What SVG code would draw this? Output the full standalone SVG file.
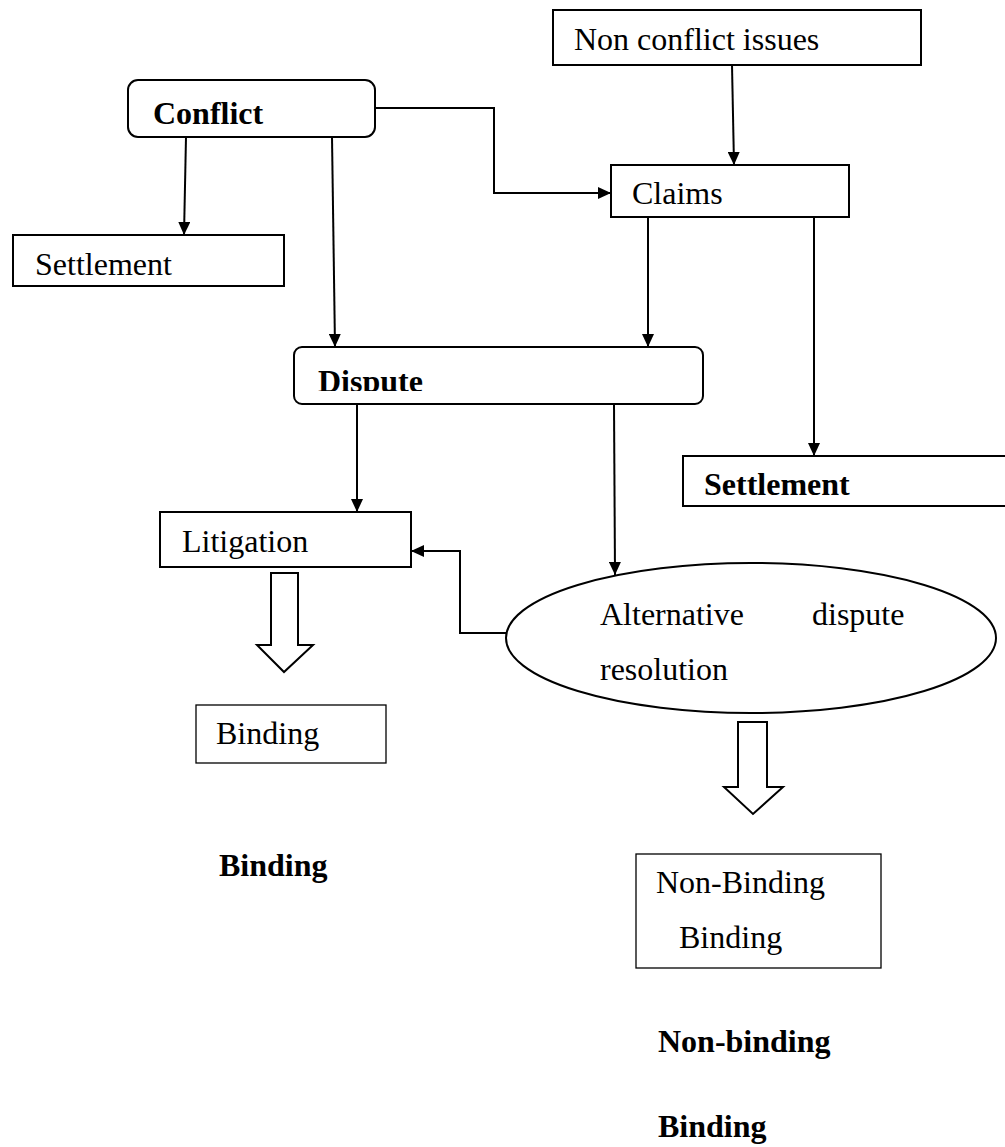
<svg xmlns="http://www.w3.org/2000/svg" width="1005" height="1147" viewBox="0 0 1005 1147">
  <style>
    .box { fill: #fff; stroke: #000; stroke-width: 2; }
    .thin { fill: #fff; stroke: #000; stroke-width: 1.3; }
    .t { font-family: "Liberation Serif", "Times New Roman", serif; font-size: 32px; fill: #000; }
    .b { font-weight: bold; }
    .conn { fill: none; stroke: #000; stroke-width: 2; marker-end: url(#ah); }
    .blk { fill: #fff; stroke: #000; stroke-width: 2; stroke-linejoin: miter; }
  </style>
  <defs>
    <marker id="ah" markerUnits="userSpaceOnUse" markerWidth="13" markerHeight="12" refX="13" refY="6" orient="auto">
      <path d="M0,0 L13,6 L0,12 z" fill="#000"/>
    </marker>
    <clipPath id="dclip"><rect x="294" y="347" width="409" height="44"/></clipPath>
  </defs>
  <rect width="1005" height="1147" fill="#fff"/>

  <g id="connectors">
    <polyline class="conn" points="375,108 494,108 494,193 611,193"/>
    <line class="conn" x1="732" y1="65" x2="734" y2="165"/>
    <line class="conn" x1="186" y1="137" x2="184" y2="235"/>
    <line class="conn" x1="332" y1="137" x2="335" y2="347"/>
    <line class="conn" x1="648" y1="217" x2="648" y2="347"/>
    <line class="conn" x1="814" y1="217" x2="814" y2="456"/>
    <line class="conn" x1="357" y1="404" x2="357" y2="512"/>
    <line class="conn" x1="614" y1="404" x2="615" y2="575"/>
    <polyline class="conn" points="506,633 460,633 460,551 411,551"/>
    <polygon class="blk" points="271,573 298,573 298,645 313,645 284,672 257,645 271,645"/>
    <polygon class="blk" points="738,722 767,722 767,787 783,787 753,814 724,787 738,787"/>
  </g>

  <g id="non-conflict">
    <rect class="box" x="553" y="10" width="368" height="55"/>
    <text class="t" x="574" y="50">Non conflict issues</text>
  </g>
  <g id="conflict">
    <rect class="box" x="128" y="80" width="247" height="57" rx="10" ry="10"/>
    <text class="t b" x="153" y="124">Conflict</text>
  </g>
  <g id="claims">
    <rect class="box" x="611" y="165" width="238" height="52"/>
    <text class="t" x="632" y="204">Claims</text>
  </g>
  <g id="settlement-left">
    <rect class="box" x="13" y="235" width="271" height="51"/>
    <text class="t" x="35" y="275">Settlement</text>
  </g>
  <g id="dispute">
    <rect class="box" x="294" y="347" width="409" height="57" rx="8" ry="8"/>
    <text class="t b" x="318" y="392" clip-path="url(#dclip)">Dispute</text>
  </g>
  <g id="settlement-right">
    <rect class="box" x="683" y="456" width="340" height="50"/>
    <text class="t b" x="704" y="495">Settlement</text>
  </g>
  <g id="litigation">
    <rect class="box" x="160" y="512" width="251" height="55"/>
    <text class="t" x="182" y="552">Litigation</text>
  </g>
  <g id="adr">
    <ellipse class="box" cx="751" cy="638" rx="245" ry="75"/>
    <text class="t" x="600" y="625">Alternative</text>
    <text class="t" x="812" y="625">dispute</text>
    <text class="t" x="600" y="680">resolution</text>
  </g>
  <g id="binding-box">
    <rect class="thin" x="196" y="705" width="190" height="58"/>
    <text class="t" x="216" y="744">Binding</text>
  </g>
  <g id="binding-label">
    <text class="t b" x="219" y="876">Binding</text>
  </g>
  <g id="nonbinding-box">
    <rect class="thin" x="636" y="854" width="245" height="114"/>
    <text class="t" x="656" y="893">Non-Binding</text>
    <text class="t" x="679" y="948">Binding</text>
  </g>
  <g id="bottom-labels">
    <text class="t b" x="658" y="1052">Non-binding</text>
    <text class="t b" x="658" y="1137">Binding</text>
  </g>
</svg>
